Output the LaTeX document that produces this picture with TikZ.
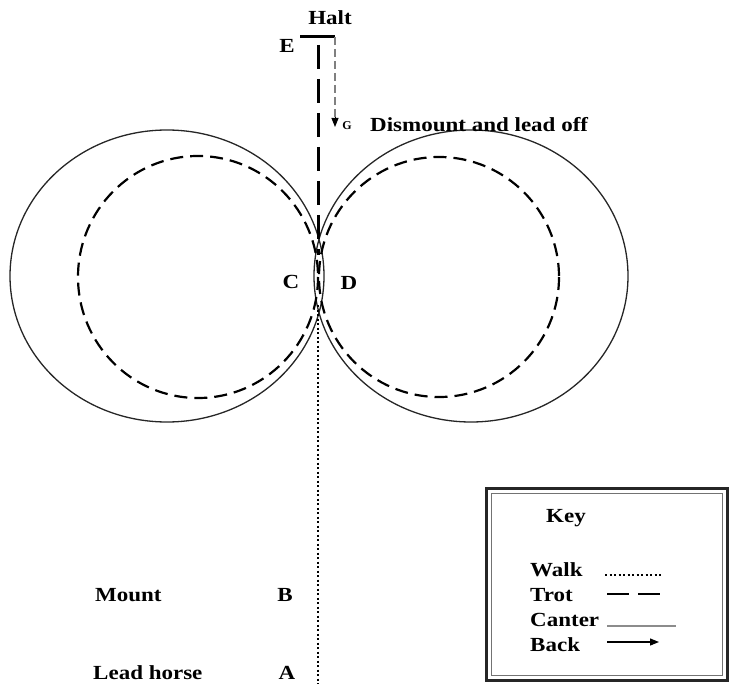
\documentclass[tikz,border=0pt]{standalone}
\usepackage{fontspec}
\setmainfont{Liberation Serif}
\usetikzlibrary{arrows.meta}
\newcommand{\wide}[1]{\scalebox{1.15}[1]{#1}}
\tikzset{
  lbl/.style={font=\fontsize{20}{23}\selectfont\bfseries, inner sep=0pt},
  lblw/.style={lbl, anchor=west},
  canter/.style={line width=1.3pt, black!85},
  trotc/.style={line width=2.2pt, dash pattern=on 13pt off 7pt},
  trotl/.style={line width=3pt, dash pattern=on 24pt off 10pt},
  walkl/.style={line width=2.4pt, dash pattern=on 2pt off 2.5pt},
  backl/.style={line width=2.6pt, black!50, dash pattern=on 8pt off 4pt},
}
\begin{document}
\begin{tikzpicture}[x=1pt,y=-1pt]
\useasboundingbox (0,0) rectangle (730,684);
% circles
\draw[canter] (167,276) ellipse [x radius=157, y radius=146];
\draw[canter] (471,276) ellipse [x radius=157, y radius=146];
\draw[trotc] (198,277) ellipse [x radius=120, y radius=121];
\draw[trotc] (439,277) ellipse [x radius=120, y radius=120];
% path coordinates
\coordinate (Etop) at (318,45);
\coordinate (Ctr) at (318,255);
\coordinate (Cbot) at (318,305);
\coordinate (Abot) at (318,684);
\coordinate (H1) at (300,37);
\coordinate (H2) at (335,37);
\coordinate (Gtip) at (335,127);
\coordinate (Gmid) at (335,117);
\draw[trotl] (Etop) -- (Ctr);
\draw[walkl] (Cbot) -- (Abot);
\draw[line width=3pt] (H1) -- (H2);
\draw[backl] (H2) -- (Gmid);
\draw[-{Triangle[length=9pt,width=7pt]}, line width=1pt] (Gmid) -- (Gtip);
% labels
\node[lbl] (halt) at (330,18) {\wide{Halt}};
\node[lbl] (E) at (287,46) {\wide{E}};
\node[lbl, font=\fontsize{12}{13}\selectfont\bfseries] (G) at (347,126) {G};
\node[lblw] (dis) at (370,125) {\wide{Dismount and lead off}};
\node[lbl] (C) at (291,282) {\wide{C}};
\node[lbl] (D) at (349,283) {\wide{D}};
\node[lblw] (mount) at (95,595) {\wide{Mount}};
\node[lbl] (B) at (285,595) {\wide{B}};
\node[lblw] (lead) at (93,673) {\wide{Lead horse}};
\node[lbl] (A) at (287,673) {\wide{A}};
% key
\draw[line width=3pt, black!85] (486,488) rectangle (727,680);
\draw[line width=1pt, black!55] (491,493) rectangle (722,675);
\node[lbl] (key) at (566,518) {\wide{Key}};
\node[lblw] (walk) at (530,570) {\wide{Walk}};
\node[lblw] (trot) at (530,595) {\wide{Trot}};
\node[lblw] (canter) at (530,620) {\wide{Canter}};
\node[lblw] (back) at (530,645) {\wide{Back}};
\coordinate (w1) at (605,575); \coordinate (w2) at (661,575);
\coordinate (t1) at (607,594); \coordinate (t2) at (660,594);
\coordinate (c1) at (607,626); \coordinate (c2) at (676,626);
\coordinate (b1) at (607,642); \coordinate (b2) at (659,642);
\draw[walkl] (w1) -- (w2);
\draw[line width=2.5pt, dash pattern=on 22pt off 9pt] (t1) -- (t2);
\draw[line width=2pt, black!45] (c1) -- (c2);
\draw[line width=1.2pt, -{Triangle[length=9pt,width=7pt]}] (b1) -- (b2);
\end{tikzpicture}
\end{document}
